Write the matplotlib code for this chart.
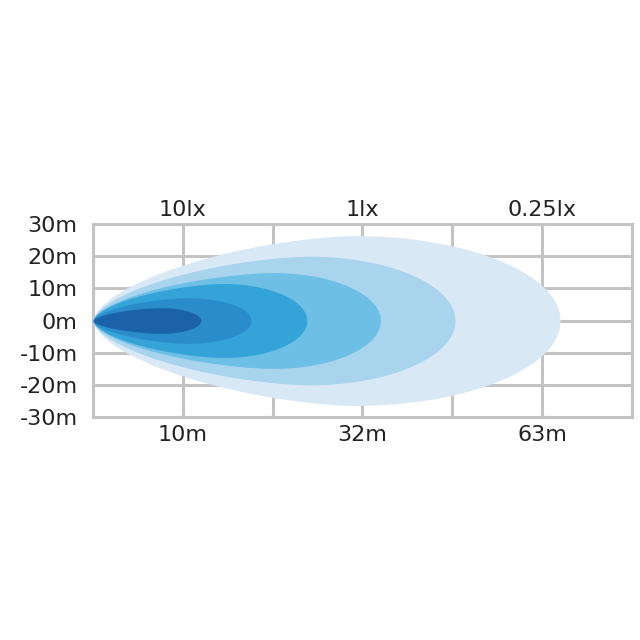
import numpy as np
import matplotlib
matplotlib.use("Agg")
import matplotlib.pyplot as plt

plt.rcParams['font.family'] = ['DejaVu Sans']

# beam zones, outermost first (x in grid columns, half width in metres)
reach = [5.2, 4.03, 3.2, 2.38, 1.76, 1.2]
widest_at = [2.9, 2.4, 2.0, 1.45, 1.05, 0.75]
half_width = [26.4, 20.0, 14.9, 11.5, 7.1, 4.0]
colors = ['#d8e8f5', '#a8d4ee', '#6dbfe6', '#33a3d8', '#2a8ccb', '#1b62aa']

y_ticks = [30, 20, 10, 0, -10, -20, -30]
y_labels = ['30m', '20m', '10m', '0m', '-10m', '-20m', '-30m']
x_ticks = [1, 3, 5]
x_labels = ['10m', '32m', '63m']
lux_labels = ['10lx', '1lx', '0.25lx']

grid_col = '#c3c3c3'
txt_col = '#222222'

fig = plt.figure(figsize=(6.4, 6.4), dpi=100)
ax = fig.add_axes([0.1453, 0.3484, 0.8422, 0.3016])

for i in range(7):
    ax.axvline(i, color=grid_col, lw=2.2, zorder=0)
for y in y_ticks:
    ax.axhline(y, color=grid_col, lw=2.2, zorder=0)

for r, c, b, col in zip(reach, widest_at, half_width, colors):
    xl = np.linspace(0, c, 300)
    wl = b * (1 - (1 - xl / c) ** 1.6) ** 0.6
    xr = np.linspace(c, r, 300)
    wr = b * np.sqrt(np.clip(1 - ((xr - c) / (r - c)) ** 2, 0, 1))
    xs = np.concatenate([xl, xr])
    ws = np.concatenate([wl, wr])
    ax.fill_between(xs, -ws, ws, color=col, lw=0, zorder=2)

ax.set_xlim(0, 6)
ax.set_ylim(-30, 30)
for s in ax.spines.values():
    s.set_color(grid_col)
    s.set_linewidth(2.2)
    s.set_zorder(0)

ax.set_yticks(y_ticks)
ax.set_yticklabels(y_labels, fontsize=16, color=txt_col)
ax.set_xticks(x_ticks)
ax.set_xticklabels(x_labels, fontsize=16, color=txt_col)
ax.tick_params(axis='y', length=0, pad=11)
ax.tick_params(axis='x', length=0, pad=6)

top = ax.secondary_xaxis('top')
top.set_xticks(x_ticks)
top.set_xticklabels(lux_labels, fontsize=16, color=txt_col)
top.tick_params(length=0, pad=3)
for s in top.spines.values():
    s.set_visible(False)

fig.savefig('out.png', dpi=100)
